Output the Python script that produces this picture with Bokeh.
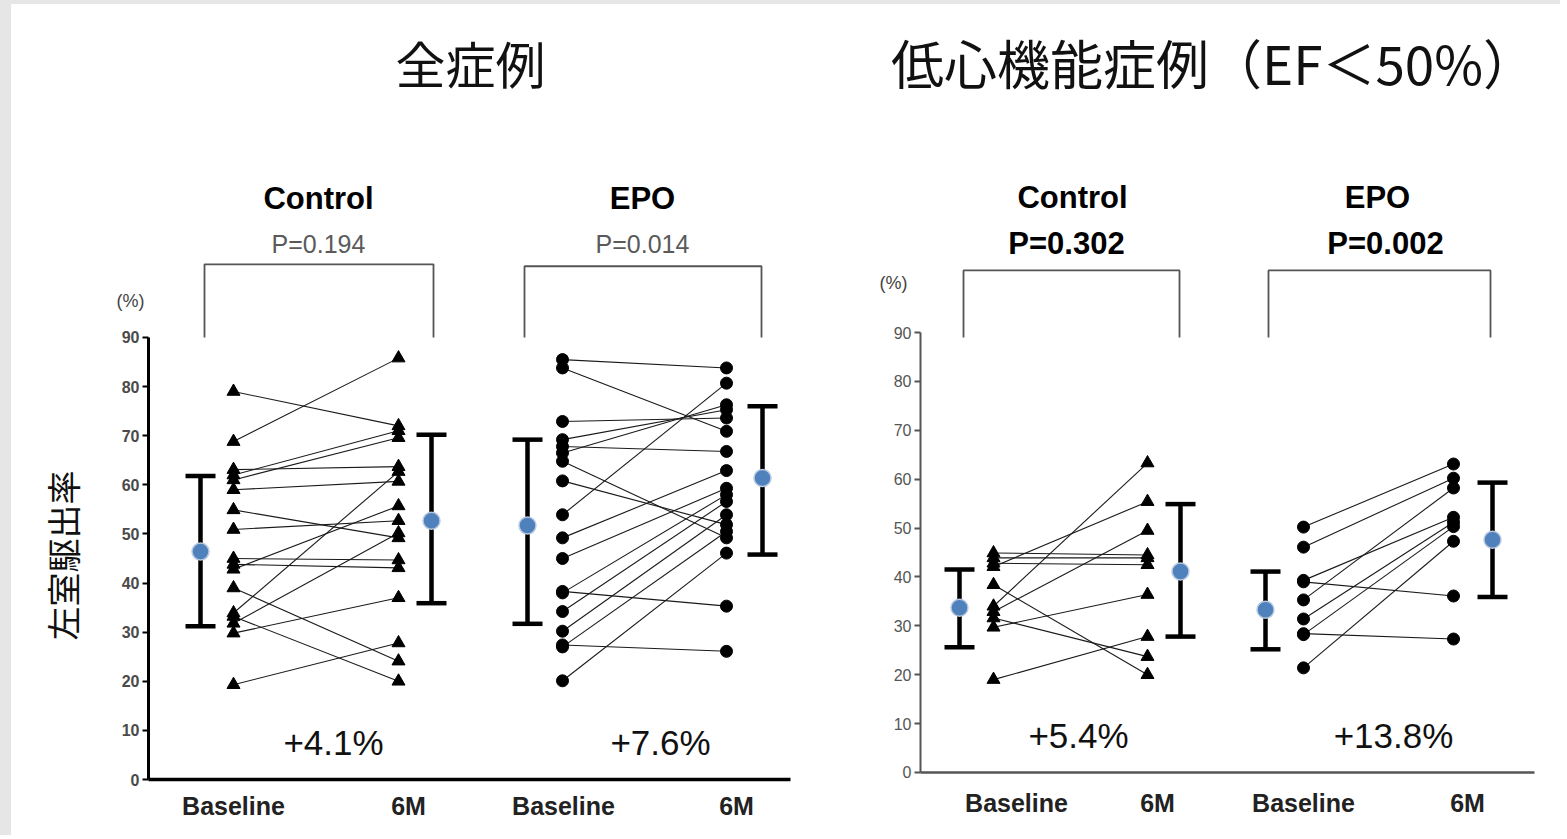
import math
from bokeh.plotting import figure
from bokeh.layouts import row, column
from bokeh.models import Range1d, FixedTicker, Spacer
from bokeh.core.properties import value
from bokeh.embed import file_html
from bokeh.resources import INLINE

# ---------------- data (left ventricular ejection fraction, %) ----------------
# 全症例 (all cases)
all_ctrl_base = [79.0, 68.8, 63.1, 62.0, 61.0, 59.0, 54.9, 50.9, 45.0, 43.8, 42.8, 39.0, 33.9, 33.2, 31.8, 29.8, 19.3]
all_ctrl_6m   = [72.0, 85.8, 63.7, 71.0, 69.6, 60.7, 49.2, 52.7, 44.7, 43.1, 55.7, 24.1, 62.7, 20.0, 50.2, 37.0, 27.8]
all_epo_base  = [85.5, 83.8, 72.9, 69.2, 67.8, 66.5, 64.8, 60.8, 53.9, 49.2, 45.0, 38.3, 38.0, 34.2, 30.2, 27.4, 27.0, 20.1]
all_epo_6m    = [83.8, 70.9, 73.6, 75.3, 66.8, 76.3, 49.2, 51.9, 80.7, 62.9, 59.3, 35.3, 58.0, 56.6, 53.9, 26.1, 50.5, 46.1]
# mean, lower, upper  (baseline, 6M)
all_ctrl_stats = [(46.4, 31.2, 61.8), (52.7, 35.9, 70.2)]
all_epo_stats  = [(51.7, 31.7, 69.2), (61.4, 45.8, 76.0)]

# 低心機能症例 (EF<50%)
low_ctrl_base = [44.9, 43.9, 42.8, 42.1, 38.4, 34.0, 32.9, 31.6, 29.7, 19.0]
low_ctrl_6m   = [44.5, 43.9, 42.5, 55.4, 20.0, 63.3, 49.5, 23.7, 36.4, 27.8]
low_epo_base  = [50.2, 46.1, 39.3, 39.0, 35.3, 31.4, 28.4, 28.2, 21.4]
low_epo_6m    = [63.1, 60.2, 52.2, 36.1, 58.2, 51.2, 27.3, 50.3, 47.3]
low_ctrl_stats = [(33.7, 25.6, 41.5), (41.1, 27.8, 54.9)]
low_epo_stats  = [(33.3, 25.2, 41.1), (47.6, 35.9, 59.3)]

group_names = ["Control", "EPO"]
p_values_all = ["P=0.194", "P=0.014"]
p_values_low = ["P=0.302", "P=0.002"]
change_all = ["+4.1%", "+7.6%"]
change_low = ["+5.4%", "+13.8%"]
time_labels = ["Baseline", "6M", "Baseline", "6M"]
y_ticks = [0, 10, 20, 30, 40, 50, 60, 70, 80, 90]
titles = ["全症例", "低心機能症例（EF＜50%）"]
y_label = "左室駆出率"

SANS = "Liberation Sans"
CJK = "Noto Sans CJK JP"
FIG_H = 831


def make_fig(width, x_start, x_end, x_axis_end, y_start, y_end, axis_color, axis_w):
    p = figure(width=width, height=FIG_H, output_backend="svg", toolbar_location=None,
               x_range=Range1d(x_start, x_end), y_range=Range1d(y_start, y_end),
               min_border_left=0, min_border_right=0,
               min_border_top=0, min_border_bottom=0)
    p.outline_line_color = None
    p.xgrid.visible = False
    p.ygrid.visible = False
    p.background_fill_color = "white"
    p.border_fill_color = "white"
    ya = p.yaxis[0]
    ya.fixed_location = 0
    ya.ticker = FixedTicker(ticks=y_ticks)
    ya.bounds = (0, 90)
    ya.axis_line_color = axis_color
    ya.axis_line_width = axis_w
    ya.major_tick_line_color = axis_color
    ya.major_tick_line_width = 2
    ya.major_tick_out = 6
    ya.major_tick_in = 0
    ya.minor_tick_line_color = None
    ya.major_label_text_font = SANS
    ya.major_label_text_font_style = "bold"
    ya.major_label_text_font_size = "16px"
    ya.major_label_text_color = "#4a4a4a"
    ya.major_label_standoff = 3
    xa = p.xaxis[0]
    xa.fixed_location = 0
    xa.bounds = (0, x_axis_end)
    xa.ticker = FixedTicker(ticks=[])
    xa.axis_line_color = axis_color
    xa.axis_line_width = axis_w + 0.5
    xa.major_tick_line_color = None
    xa.minor_tick_line_color = None
    return p


def draw_group(p, xb, xm, xsd0, xsd1, base, m6, stats, marker, msize):
    # individual patient lines
    p.segment(x0=[xb] * len(base), y0=base, x1=[xm] * len(m6), y1=m6,
              line_color="#1a1a1a", line_width=1.1)
    p.scatter(x=[xb] * len(base), y=base, marker=marker, size=msize,
              fill_color="black", line_color="black")
    p.scatter(x=[xm] * len(m6), y=m6, marker=marker, size=msize,
              fill_color="black", line_color="black")
    # mean +- SD
    xs = [xsd0, xsd1]
    means = [s[0] for s in stats]
    lows = [s[1] for s in stats]
    highs = [s[2] for s in stats]
    cap = 0.15
    p.segment(x0=xs, y0=lows, x1=xs, y1=highs, line_color="black", line_width=4.5)
    p.segment(x0=[x - cap for x in xs], y0=lows, x1=[x + cap for x in xs], y1=lows,
              line_color="black", line_width=4.5)
    p.segment(x0=[x - cap for x in xs], y0=highs, x1=[x + cap for x in xs], y1=highs,
              line_color="black", line_width=4.5)
    p.scatter(x=xs, y=means, marker="circle", size=17, fill_color="#4f81bd",
              line_color="#b9c9df", line_width=1.5)


def bracket(p, x0, x1, ybot, ytop):
    p.line(x=[x0, x0, x1, x1], y=[ybot, ytop, ytop, ybot], line_color="#555555", line_width=1.8)


def txt(p, x, y, s, size, style="normal", color="black", font=SANS, angle=0.0):
    p.text(x=[x], y=[y], text=[s], text_font=value(font), text_font_size=size,
           text_font_style=style, text_color=color, angle=angle,
           text_align="center", text_baseline="middle")


def time_axis_labels(p, xs, y):
    p.text(x=xs, y=[y] * len(xs), text=time_labels, text_font=value(SANS),
           text_font_size="25px", text_font_style="bold", text_color="#222222",
           text_align="center", text_baseline="middle")


# ---------------- left panel: 全症例 ----------------
L = make_fig(789, -1.37, 6.52, 6.42, -11.40, 157.8, "black", 3)
time_axis_labels(L, [0.85, 2.60, 4.15, 5.88], -5.3)

draw_group(L, 0.85, 2.50, 0.52, 2.83, all_ctrl_base, all_ctrl_6m, all_ctrl_stats, "triangle", 13)
draw_group(L, 4.14, 5.78, 3.79, 6.14, all_epo_base, all_epo_6m, all_epo_stats, "circle", 12)
bracket(L, 0.56, 2.85, 90, 104.9)
bracket(L, 3.76, 6.13, 90, 104.5)
txt(L, 1.70, 118.3, group_names[0], "31px", "bold")
txt(L, 4.94, 118.3, group_names[1], "31px", "bold")
txt(L, 1.70, 109.1, p_values_all[0], "25px", "normal", "#5a5a5a")
txt(L, 4.94, 109.1, p_values_all[1], "25px", "normal", "#5a5a5a")
txt(L, 1.85, 7.5, change_all[0], "35px", "normal", "#111111")
txt(L, 5.12, 7.5, change_all[1], "35px", "normal", "#111111")
txt(L, 3.22, 146.0, titles[0], "50px", "normal", "#111111", CJK)
txt(L, -0.18, 97.5, "(%)", "18px", "normal", "#444444")
txt(L, -0.86, 45.6, y_label, "34px", "normal", "#111111", CJK, angle=math.pi / 2)

# ---------------- right panel: 低心機能症例 ----------------
R = make_fig(760, -1.20, 6.40, 6.14, -12.89, 157.1, "#555555", 2)
R.yaxis[0].major_label_text_font_style = "normal"
R.yaxis[0].major_label_text_color = "#555555"
time_axis_labels(R, [0.96, 2.37, 3.83, 5.47], -6.3)

draw_group(R, 0.73, 2.27, 0.39, 2.60, low_ctrl_base, low_ctrl_6m, low_ctrl_stats, "triangle", 13)
draw_group(R, 3.83, 5.33, 3.45, 5.72, low_epo_base, low_epo_6m, low_epo_stats, "circle", 12)
bracket(R, 0.43, 2.59, 89.0, 102.7)
bracket(R, 3.48, 5.70, 89.0, 102.7)
txt(R, 1.52, 117.6, group_names[0], "31px", "bold")
txt(R, 4.57, 117.6, group_names[1], "31px", "bold")
txt(R, 1.46, 108.2, p_values_low[0], "31px", "bold")
txt(R, 4.65, 108.2, p_values_low[1], "31px", "bold")
txt(R, 1.58, 7.6, change_low[0], "35px", "normal", "#111111")
txt(R, 4.73, 7.6, change_low[1], "35px", "normal", "#111111")
txt(R, 2.93, 145.4, titles[1], "53px", "normal", "#111111", CJK)
txt(R, -0.27, 100.2, "(%)", "18px", "normal", "#444444")

GRAY = {"background-color": "#e6e6e6"}
top_strip = Spacer(width=1560, height=4, styles=GRAY)
left_strip = Spacer(width=11, height=FIG_H, styles=GRAY)
layout = column(top_strip, row(left_strip, L, R))
open("out.html", "w").write(file_html(layout, INLINE))
